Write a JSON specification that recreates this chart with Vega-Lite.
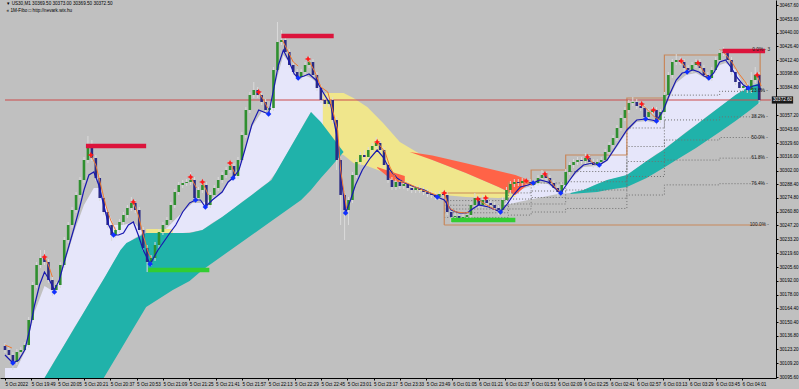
{
"$schema":"https://vega.github.io/schema/vega-lite/v6.json",
"width":776,"height":378,"autosize":{"type":"none"},"padding":{"left":0,"top":0,"right":23,"bottom":11},
"background":"#c0c0c0",
"config":{"view":{"stroke":null},"font":"Liberation Sans"},
"datasets":{
"cd":[
{"i":0,"o":30126.6,"h":30129.6,"l":30119.6,"c":30122.6},{"i":1,"o":30122.6,"h":30125.6,"l":30114.6,"c":30117.6},{"i":2,"o":30117.6,"h":30120.6,"l":30102.6,"c":30110.6},{"i":3,"o":30110.6,"h":30123.6,"l":30107.6,"c":30120.6},{"i":4,"o":30120.6,"h":30125.6,"l":30117.6,"c":30122.6},{"i":5,"o":30122.6,"h":30130.6,"l":30119.6,"c":30127.6},{"i":6,"o":30127.6,"h":30155.6,"l":30124.6,"c":30152.6},{"i":7,"o":30152.6,"h":30190.6,"l":30149.6,"c":30187.6},{"i":8,"o":30187.6,"h":30210.6,"l":30184.6,"c":30207.6},{"i":9,"o":30207.6,"h":30222.6,"l":30204.6,"c":30214.6},
{"i":10,"o":30214.6,"h":30222.6,"l":30207.6,"c":30210.6},{"i":11,"o":30210.6,"h":30213.6,"l":30189.6,"c":30192.6},{"i":12,"o":30192.6,"h":30195.6,"l":30176.6,"c":30182.6},{"i":13,"o":30182.6,"h":30190.6,"l":30179.6,"c":30187.6},{"i":14,"o":30187.6,"h":30210.6,"l":30184.6,"c":30207.6},{"i":15,"o":30207.6,"h":30235.6,"l":30204.6,"c":30232.6},{"i":16,"o":30232.6,"h":30250.6,"l":30229.6,"c":30247.6},{"i":17,"o":30247.6,"h":30265.6,"l":30244.6,"c":30262.6},{"i":18,"o":30262.6,"h":30280.6,"l":30259.6,"c":30277.6},{"i":19,"o":30277.6,"h":30295.6,"l":30274.6,"c":30292.6},
{"i":20,"o":30292.6,"h":30315.6,"l":30289.6,"c":30312.6},{"i":21,"o":30312.6,"h":30336.6,"l":30309.6,"c":30324.6},{"i":22,"o":30324.6,"h":30332.6,"l":30311.6,"c":30314.6},{"i":23,"o":30314.6,"h":30317.6,"l":30291.6,"c":30294.6},{"i":24,"o":30294.6,"h":30297.6,"l":30271.6,"c":30274.6},{"i":25,"o":30274.6,"h":30277.6,"l":30257.6,"c":30260.6},{"i":26,"o":30260.6,"h":30263.6,"l":30244.6,"c":30247.6},{"i":27,"o":30247.6,"h":30250.6,"l":30231.6,"c":30237.6},{"i":28,"o":30237.6,"h":30245.6,"l":30234.6,"c":30242.6},{"i":29,"o":30242.6,"h":30253.6,"l":30239.6,"c":30250.6},
{"i":30,"o":30250.6,"h":30260.6,"l":30247.6,"c":30257.6},{"i":31,"o":30257.6,"h":30267.6,"l":30254.6,"c":30264.6},{"i":32,"o":30264.6,"h":30275.6,"l":30261.6,"c":30269.6},{"i":33,"o":30269.6,"h":30272.6,"l":30259.6,"c":30262.6},{"i":34,"o":30262.6,"h":30265.6,"l":30239.6,"c":30242.6},{"i":35,"o":30242.6,"h":30245.6,"l":30221.6,"c":30224.6},{"i":36,"o":30224.6,"h":30227.6,"l":30200.6,"c":30210.6},{"i":37,"o":30210.6,"h":30217.6,"l":30206.6,"c":30214.6},{"i":38,"o":30214.6,"h":30230.6,"l":30211.6,"c":30227.6},{"i":39,"o":30227.6,"h":30243.6,"l":30224.6,"c":30240.6},
{"i":40,"o":30240.6,"h":30250.6,"l":30237.6,"c":30247.6},{"i":41,"o":30247.6,"h":30255.6,"l":30244.6,"c":30252.6},{"i":42,"o":30252.6,"h":30270.6,"l":30249.6,"c":30267.6},{"i":43,"o":30267.6,"h":30283.6,"l":30264.6,"c":30280.6},{"i":44,"o":30280.6,"h":30290.6,"l":30277.6,"c":30287.6},{"i":45,"o":30287.6,"h":30292.6,"l":30284.6,"c":30289.6},{"i":46,"o":30289.6,"h":30293.6,"l":30286.6,"c":30290.6},{"i":47,"o":30290.6,"h":30300.6,"l":30287.6,"c":30292.6},{"i":48,"o":30292.6,"h":30295.6,"l":30271.6,"c":30274.6},{"i":49,"o":30274.6,"h":30285.6,"l":30271.6,"c":30282.6},
{"i":50,"o":30282.6,"h":30290.6,"l":30279.6,"c":30287.6},{"i":51,"o":30287.6,"h":30290.6,"l":30264.6,"c":30267.6},{"i":52,"o":30267.6,"h":30280.6,"l":30264.6,"c":30277.6},{"i":53,"o":30277.6,"h":30287.6,"l":30274.6,"c":30284.6},{"i":54,"o":30284.6,"h":30295.6,"l":30281.6,"c":30292.6},{"i":55,"o":30292.6,"h":30300.6,"l":30289.6,"c":30297.6},{"i":56,"o":30297.6,"h":30305.6,"l":30294.6,"c":30302.6},{"i":57,"o":30302.6,"h":30312.6,"l":30299.6,"c":30306.6},{"i":58,"o":30306.6,"h":30309.6,"l":30293.6,"c":30296.6},{"i":59,"o":30296.6,"h":30315.6,"l":30293.6,"c":30312.6},
{"i":60,"o":30312.6,"h":30340.6,"l":30309.6,"c":30337.6},{"i":61,"o":30337.6,"h":30365.6,"l":30334.6,"c":30362.6},{"i":62,"o":30362.6,"h":30380.6,"l":30359.6,"c":30377.6},{"i":63,"o":30377.6,"h":30390.6,"l":30374.6,"c":30382.6},{"i":64,"o":30382.6,"h":30385.6,"l":30374.6,"c":30377.6},{"i":65,"o":30377.6,"h":30380.6,"l":30367.6,"c":30370.6},{"i":66,"o":30370.6,"h":30373.6,"l":30359.6,"c":30362.6},{"i":67,"o":30362.6,"h":30367.6,"l":30356.6,"c":30364.6},{"i":68,"o":30364.6,"h":30405.6,"l":30361.6,"c":30402.6},{"i":69,"o":30402.6,"h":30450.6,"l":30399.6,"c":30430.6},
{"i":70,"o":30430.6,"h":30442.6,"l":30427.6,"c":30432.6},{"i":71,"o":30432.6,"h":30435.6,"l":30417.6,"c":30420.6},{"i":72,"o":30420.6,"h":30423.6,"l":30404.6,"c":30407.6},{"i":73,"o":30407.6,"h":30410.6,"l":30397.6,"c":30400.6},{"i":74,"o":30400.6,"h":30403.6,"l":30392.6,"c":30395.6},{"i":75,"o":30395.6,"h":30403.6,"l":30392.6,"c":30400.6},{"i":76,"o":30400.6,"h":30410.6,"l":30397.6,"c":30407.6},{"i":77,"o":30407.6,"h":30416.6,"l":30404.6,"c":30410.6},{"i":78,"o":30410.6,"h":30413.6,"l":30394.6,"c":30397.6},{"i":79,"o":30397.6,"h":30400.6,"l":30381.6,"c":30384.6},
{"i":80,"o":30384.6,"h":30387.6,"l":30369.6,"c":30372.6},{"i":81,"o":30372.6,"h":30375.6,"l":30365.6,"c":30368.6},{"i":82,"o":30368.6,"h":30378.6,"l":30365.6,"c":30372.6},{"i":83,"o":30372.6,"h":30375.6,"l":30349.6,"c":30352.6},{"i":84,"o":30352.6,"h":30355.6,"l":30302.6,"c":30312.6},{"i":85,"o":30312.6,"h":30315.6,"l":30247.6,"c":30277.6},{"i":86,"o":30277.6,"h":30280.6,"l":30232.6,"c":30262.6},{"i":87,"o":30262.6,"h":30275.6,"l":30247.6,"c":30272.6},{"i":88,"o":30272.6,"h":30300.6,"l":30269.6,"c":30297.6},{"i":89,"o":30297.6,"h":30313.6,"l":30294.6,"c":30310.6},
{"i":90,"o":30310.6,"h":30320.6,"l":30307.6,"c":30317.6},{"i":91,"o":30317.6,"h":30322.6,"l":30312.6,"c":30315.6},{"i":92,"o":30315.6,"h":30325.6,"l":30312.6,"c":30322.6},{"i":93,"o":30322.6,"h":30329.6,"l":30319.6,"c":30326.6},{"i":94,"o":30326.6,"h":30335.6,"l":30323.6,"c":30329.6},{"i":95,"o":30329.6,"h":30332.6,"l":30319.6,"c":30322.6},{"i":96,"o":30322.6,"h":30325.6,"l":30304.6,"c":30307.6},{"i":97,"o":30307.6,"h":30310.6,"l":30289.6,"c":30292.6},{"i":98,"o":30292.6,"h":30295.6,"l":30282.6,"c":30285.6},{"i":99,"o":30285.6,"h":30293.6,"l":30282.6,"c":30290.6},
{"i":100,"o":30290.6,"h":30293.6,"l":30283.6,"c":30286.6},{"i":101,"o":30286.6,"h":30291.6,"l":30283.6,"c":30288.6},{"i":102,"o":30288.6,"h":30291.6,"l":30281.6,"c":30284.6},{"i":103,"o":30284.6,"h":30287.6,"l":30279.6,"c":30282.6},{"i":104,"o":30282.6,"h":30287.6,"l":30279.6,"c":30284.6},{"i":105,"o":30284.6,"h":30287.6,"l":30279.6,"c":30282.6},{"i":106,"o":30282.6,"h":30285.6,"l":30277.6,"c":30280.6},{"i":107,"o":30280.6,"h":30283.6,"l":30275.6,"c":30278.6},{"i":108,"o":30278.6,"h":30281.6,"l":30274.6,"c":30277.6},{"i":109,"o":30277.6,"h":30280.6,"l":30272.6,"c":30275.6},
{"i":110,"o":30275.6,"h":30281.6,"l":30272.6,"c":30278.6},{"i":111,"o":30278.6,"h":30282.6,"l":30274.6,"c":30277.6},{"i":112,"o":30277.6,"h":30280.6,"l":30257.6,"c":30260.6},{"i":113,"o":30260.6,"h":30263.6,"l":30249.6,"c":30255.6},{"i":114,"o":30255.6,"h":30259.6,"l":30252.6,"c":30256.6},{"i":115,"o":30256.6,"h":30259.6,"l":30251.6,"c":30254.6},{"i":116,"o":30254.6,"h":30258.6,"l":30251.6,"c":30255.6},{"i":117,"o":30255.6,"h":30260.6,"l":30252.6,"c":30257.6},{"i":118,"o":30257.6,"h":30270.6,"l":30254.6,"c":30267.6},{"i":119,"o":30267.6,"h":30279.6,"l":30264.6,"c":30274.6},
{"i":120,"o":30274.6,"h":30277.6,"l":30264.6,"c":30267.6},{"i":121,"o":30267.6,"h":30277.6,"l":30264.6,"c":30272.6},{"i":122,"o":30272.6,"h":30275.6,"l":30266.6,"c":30269.6},{"i":123,"o":30269.6,"h":30272.6,"l":30264.6,"c":30267.6},{"i":124,"o":30267.6,"h":30270.6,"l":30261.6,"c":30264.6},{"i":125,"o":30264.6,"h":30267.6,"l":30257.6,"c":30262.6},{"i":126,"o":30262.6,"h":30275.6,"l":30259.6,"c":30272.6},{"i":127,"o":30272.6,"h":30285.6,"l":30269.6,"c":30282.6},{"i":128,"o":30282.6,"h":30291.6,"l":30279.6,"c":30288.6},{"i":129,"o":30288.6,"h":30293.6,"l":30285.6,"c":30290.6},
{"i":130,"o":30290.6,"h":30293.6,"l":30286.6,"c":30289.6},{"i":131,"o":30289.6,"h":30294.6,"l":30286.6,"c":30291.6},{"i":132,"o":30291.6,"h":30294.6,"l":30287.6,"c":30290.6},{"i":133,"o":30290.6,"h":30293.6,"l":30284.6,"c":30287.6},{"i":134,"o":30287.6,"h":30292.6,"l":30284.6,"c":30289.6},{"i":135,"o":30289.6,"h":30297.6,"l":30286.6,"c":30294.6},{"i":136,"o":30294.6,"h":30302.6,"l":30291.6,"c":30297.6},{"i":137,"o":30297.6,"h":30300.6,"l":30291.6,"c":30294.6},{"i":138,"o":30294.6,"h":30297.6,"l":30286.6,"c":30289.6},{"i":139,"o":30289.6,"h":30292.6,"l":30281.6,"c":30284.6},
{"i":140,"o":30284.6,"h":30287.6,"l":30275.6,"c":30280.6},{"i":141,"o":30280.6,"h":30290.6,"l":30277.6,"c":30287.6},{"i":142,"o":30287.6,"h":30303.6,"l":30284.6,"c":30300.6},{"i":143,"o":30300.6,"h":30310.6,"l":30297.6,"c":30307.6},{"i":144,"o":30307.6,"h":30313.6,"l":30304.6,"c":30310.6},{"i":145,"o":30310.6,"h":30315.6,"l":30307.6,"c":30312.6},{"i":146,"o":30312.6,"h":30315.6,"l":30308.6,"c":30311.6},{"i":147,"o":30311.6,"h":30319.6,"l":30308.6,"c":30314.6},{"i":148,"o":30314.6,"h":30317.6,"l":30307.6,"c":30310.6},{"i":149,"o":30310.6,"h":30313.6,"l":30304.6,"c":30307.6},
{"i":150,"o":30307.6,"h":30313.6,"l":30304.6,"c":30310.6},{"i":151,"o":30310.6,"h":30315.6,"l":30307.6,"c":30312.6},{"i":152,"o":30312.6,"h":30323.6,"l":30309.6,"c":30320.6},{"i":153,"o":30320.6,"h":30330.6,"l":30317.6,"c":30327.6},{"i":154,"o":30327.6,"h":30337.6,"l":30324.6,"c":30334.6},{"i":155,"o":30334.6,"h":30347.6,"l":30331.6,"c":30344.6},{"i":156,"o":30344.6,"h":30357.6,"l":30341.6,"c":30354.6},{"i":157,"o":30354.6,"h":30365.6,"l":30351.6,"c":30362.6},{"i":158,"o":30362.6,"h":30372.6,"l":30359.6,"c":30369.6},{"i":159,"o":30369.6,"h":30375.6,"l":30366.6,"c":30370.6},
{"i":160,"o":30370.6,"h":30373.6,"l":30363.6,"c":30366.6},{"i":161,"o":30366.6,"h":30369.6,"l":30361.6,"c":30364.6},{"i":162,"o":30364.6,"h":30367.6,"l":30352.6,"c":30355.6},{"i":163,"o":30355.6,"h":30363.6,"l":30352.6,"c":30360.6},{"i":164,"o":30360.6,"h":30365.6,"l":30357.6,"c":30362.6},{"i":165,"o":30362.6,"h":30365.6,"l":30347.6,"c":30352.6},{"i":166,"o":30352.6,"h":30363.6,"l":30349.6,"c":30360.6},{"i":167,"o":30360.6,"h":30380.6,"l":30357.6,"c":30377.6},{"i":168,"o":30377.6,"h":30400.6,"l":30374.6,"c":30397.6},{"i":169,"o":30397.6,"h":30413.6,"l":30394.6,"c":30410.6},
{"i":170,"o":30410.6,"h":30418.6,"l":30407.6,"c":30412.6},{"i":171,"o":30412.6,"h":30415.6,"l":30407.6,"c":30410.6},{"i":172,"o":30410.6,"h":30413.6,"l":30401.6,"c":30404.6},{"i":173,"o":30404.6,"h":30407.6,"l":30399.6,"c":30402.6},{"i":174,"o":30402.6,"h":30410.6,"l":30399.6,"c":30407.6},{"i":175,"o":30407.6,"h":30413.6,"l":30404.6,"c":30410.6},{"i":176,"o":30410.6,"h":30413.6,"l":30401.6,"c":30404.6},{"i":177,"o":30404.6,"h":30407.6,"l":30394.6,"c":30397.6},{"i":178,"o":30397.6,"h":30400.6,"l":30391.6,"c":30394.6},{"i":179,"o":30394.6,"h":30405.6,"l":30391.6,"c":30402.6},
{"i":180,"o":30402.6,"h":30415.6,"l":30399.6,"c":30412.6},{"i":181,"o":30412.6,"h":30422.6,"l":30409.6,"c":30419.6},{"i":182,"o":30419.6,"h":30425.6,"l":30416.6,"c":30420.6},{"i":183,"o":30420.6,"h":30423.6,"l":30409.6,"c":30412.6},{"i":184,"o":30412.6,"h":30415.6,"l":30397.6,"c":30400.6},{"i":185,"o":30400.6,"h":30403.6,"l":30387.6,"c":30390.6},{"i":186,"o":30390.6,"h":30393.6,"l":30381.6,"c":30384.6},{"i":187,"o":30384.6,"h":30389.6,"l":30381.6,"c":30386.6},{"i":188,"o":30386.6,"h":30389.6,"l":30379.6,"c":30382.6},{"i":189,"o":30382.6,"h":30400.6,"l":30379.6,"c":30392.6},
{"i":190,"o":30392.6,"h":30405.6,"l":30389.6,"c":30397.6},{"i":191,"o":30397.6,"h":30400.6,"l":30368.6,"c":30372.6}
],
"ma":[
{"i":0,"p":30117.6},{"i":2,"p":30109.6},{"i":3.5,"p":30112.6},{"i":5,"p":30122.6},{"i":6.25,"p":30142.6},{"i":7.5,"p":30167.6},{"i":8.75,"p":30187.6},{"i":10,"p":30200.6},{"i":11.25,"p":30192.6},{"i":12.5,"p":30182.6},{"i":13.75,"p":30192.6},{"i":15,"p":30210.6},{"i":16.25,"p":30227.6},{"i":17.5,"p":30244.6},{"i":18.75,"p":30262.6},{"i":20,"p":30282.6},{"i":21.25,"p":30297.6},{"i":22.5,"p":30300.6},{"i":23.75,"p":30287.6},{"i":25,"p":30267.6},{"i":26.25,"p":30247.6},{"i":27.5,"p":30237.6},{"i":28.75,"p":30237.6},{"i":30,"p":30239.6},{"i":31.25,"p":30247.6},{"i":32.5,"p":30250.6},{"i":33.75,"p":30237.6},{"i":35,"p":30222.6},{"i":36.75,"p":30208.6},{"i":38.75,"p":30222.6},{"i":40,"p":30229.6},{"i":41.75,"p":30239.6},{"i":43.25,"p":30247.6},{"i":45,"p":30260.6},{"i":46.75,"p":30269.6},{"i":48.25,"p":30272.6},{"i":49.5,"p":30272.6},{"i":50.75,"p":30265.6},{"i":52.5,"p":30272.6},{"i":55,"p":30280.6},{"i":56.5,"p":30290.6},{"i":57.75,"p":30294.6},{"i":59.25,"p":30302.6},{"i":60.75,"p":30322.6},{"i":62.5,"p":30347.6},{"i":64.25,"p":30362.6},{"i":65.5,"p":30360.6},{"i":66.75,"p":30358.6},{"i":68,"p":30382.6},{"i":69.25,"p":30407.6},{"i":70.5,"p":30422.6},{"i":72,"p":30410.6},{"i":73.25,"p":30398.6},{"i":74.25,"p":30394.6},{"i":75.75,"p":30396.6},{"i":77,"p":30398.6},{"i":78.75,"p":30392.6},{"i":80.5,"p":30380.6},{"i":82.5,"p":30367.6},{"i":84.25,"p":30332.6},{"i":85.25,"p":30292.6},{"i":86.25,"p":30259.6},{"i":87.5,"p":30272.6},{"i":88.75,"p":30287.6},{"i":90.5,"p":30302.6},{"i":92.5,"p":30314.6},{"i":94.25,"p":30322.6},{"i":95.75,"p":30315.6},{"i":97.5,"p":30302.6},{"i":99.25,"p":30294.6},{"i":101.25,"p":30289.6},{"i":103.75,"p":30285.6},{"i":106.25,"p":30282.6},{"i":109.5,"p":30275.6},{"i":111.25,"p":30272.6},{"i":113,"p":30262.6},{"i":115,"p":30259.6},{"i":117,"p":30259.6},{"i":118.75,"p":30264.6},{"i":120,"p":30267.6},{"i":122.5,"p":30265.6},{"i":125.5,"p":30260.6},{"i":127,"p":30267.6},{"i":128.75,"p":30277.6},{"i":130.5,"p":30285.6},{"i":132.5,"p":30287.6},{"i":133.75,"p":30289.6},{"i":135.5,"p":30292.6},{"i":137.5,"p":30290.6},{"i":139.25,"p":30284.6},{"i":140.75,"p":30279.6},{"i":142.5,"p":30289.6},{"i":144.5,"p":30300.6},{"i":146.5,"p":30307.6},{"i":148.75,"p":30309.6},{"i":150.5,"p":30307.6},{"i":152.5,"p":30312.6},{"i":155,"p":30327.6},{"i":157.5,"p":30342.6},{"i":160,"p":30352.6},{"i":162.25,"p":30353.6},{"i":163.75,"p":30352.6},{"i":165,"p":30351.6},{"i":166.75,"p":30362.6},{"i":168.25,"p":30377.6},{"i":170,"p":30392.6},{"i":171.5,"p":30399.6},{"i":172.75,"p":30400.6},{"i":174.25,"p":30402.6},{"i":175.75,"p":30400.6},{"i":177,"p":30396.6},{"i":178.25,"p":30394.6},{"i":179.5,"p":30399.6},{"i":181,"p":30410.6},{"i":182.5,"p":30412.6},{"i":184,"p":30404.6},{"i":185.5,"p":30394.6},{"i":187,"p":30387.6},{"i":188.25,"p":30384.6},{"i":189.5,"p":30386.6},{"i":190.75,"p":30387.6},{"i":191.5,"p":30382.6}
],
"org":[
{"s":0,"i":0,"p":30127.6},{"s":0,"i":1.75,"p":30124.6},
{"s":1,"i":10,"p":30215.6},{"s":1,"i":11,"p":30207.6},{"s":1,"i":12,"p":30195.6},
{"s":2,"i":21.75,"p":30317.6},{"s":2,"i":23,"p":30307.6},{"s":2,"i":24.25,"p":30287.6},{"s":2,"i":25.5,"p":30267.6},{"s":2,"i":26.75,"p":30252.6},{"s":2,"i":28,"p":30242.6},
{"s":3,"i":32.5,"p":30270.6},{"s":3,"i":33.75,"p":30257.6},{"s":3,"i":35,"p":30237.6},{"s":3,"i":36.25,"p":30220.6},{"s":3,"i":37,"p":30214.6},
{"s":4,"i":47,"p":30295.6},{"s":4,"i":48.5,"p":30284.6},
{"s":5,"i":50,"p":30290.6},{"s":5,"i":51.5,"p":30277.6},
{"s":6,"i":57,"p":30309.6},{"s":6,"i":58.25,"p":30298.6},
{"s":7,"i":64.25,"p":30380.6},{"s":7,"i":65.5,"p":30372.6},{"s":7,"i":66.5,"p":30364.6},
{"s":8,"i":70.25,"p":30432.6},{"s":8,"i":71.75,"p":30420.6},{"s":8,"i":73,"p":30410.6},{"s":8,"i":74.25,"p":30406.6},
{"s":9,"i":76.75,"p":30413.6},{"s":9,"i":78.5,"p":30400.6},{"s":9,"i":80,"p":30385.6},{"s":9,"i":81.75,"p":30380.6},{"s":9,"i":82.5,"p":30369.6},{"s":9,"i":84.25,"p":30342.6},{"s":9,"i":85,"p":30302.6},{"s":9,"i":85.75,"p":30282.6},{"s":9,"i":86.5,"p":30264.6},
{"s":10,"i":94.25,"p":30330.6},{"s":10,"i":96.25,"p":30320.6},{"s":10,"i":97.5,"p":30305.6},{"s":10,"i":99.25,"p":30292.6},{"s":10,"i":101.75,"p":30289.6},{"s":10,"i":105.75,"p":30282.6},{"s":10,"i":109.25,"p":30277.6},
{"s":11,"i":111.25,"p":30279.6},{"s":11,"i":112.5,"p":30264.6},{"s":11,"i":114.25,"p":30260.6},{"s":11,"i":116.75,"p":30259.6},{"s":11,"i":117.5,"p":30260.6},
{"s":12,"i":120,"p":30272.6},{"s":12,"i":122,"p":30267.6},{"s":12,"i":124.25,"p":30262.6},
{"s":13,"i":132,"p":30291.6},{"s":13,"i":133.5,"p":30287.6},
{"s":14,"i":136.75,"p":30298.6},{"s":14,"i":138,"p":30292.6},{"s":14,"i":139.25,"p":30285.6},{"s":14,"i":140.5,"p":30280.6},
{"s":15,"i":147.5,"p":30315.6},{"s":15,"i":149.25,"p":30308.6},
{"s":16,"i":161.25,"p":30368.6},{"s":16,"i":163,"p":30361.6},{"s":16,"i":164.5,"p":30355.6},{"s":16,"i":165.75,"p":30352.6},
{"s":17,"i":171.25,"p":30411.6},{"s":17,"i":172.75,"p":30402.6},
{"s":18,"i":175.5,"p":30409.6},{"s":18,"i":177,"p":30400.6},{"s":18,"i":178.25,"p":30394.6},
{"s":19,"i":182,"p":30420.6},{"s":19,"i":184.25,"p":30409.6},{"s":19,"i":185.75,"p":30399.6},{"s":19,"i":187.5,"p":30390.6},{"s":19,"i":188.25,"p":30385.6},
{"s":20,"i":190.5,"p":30397.6},{"s":20,"i":191.5,"p":30386.6}
],
"lavL":[
{"i":0,"p":30104.6,"p2":30094.6},{"i":3,"p":30104.6,"p2":30094.6},{"i":5,"p":30120.6,"p2":30094.6},{"i":7.5,"p":30160.6,"p2":30094.6},{"i":10,"p":30186.6,"p2":30094.6},{"i":12.5,"p":30180.6,"p2":30111.6},{"i":15,"p":30207.6,"p2":30127.6},{"i":17.5,"p":30240.6,"p2":30144.6},{"i":20,"p":30267.6,"p2":30160.6},{"i":22.5,"p":30284.6,"p2":30177.6},{"i":23.75,"p":30284.6,"p2":30185.6},{"i":25.5,"p":30267.6,"p2":30196.6},{"i":27.5,"p":30247.6,"p2":30210.6},{"i":30,"p":30247.6,"p2":30225.6},{"i":32.5,"p":30250.6,"p2":30233.6},{"i":35,"p":30240.6,"p2":30239.6},{"i":36.75,"p":30237.6,"p2":30239.6},{"i":40,"p":30240.6,"p2":30239.6},{"i":42.5,"p":30250.6,"p2":30239.6},{"i":45,"p":30260.6,"p2":30239.6},{"i":47.5,"p":30269.6,"p2":30240.6},{"i":50,"p":30269.6,"p2":30242.6},{"i":52.5,"p":30274.6,"p2":30249.6},{"i":55,"p":30280.6,"p2":30255.6},{"i":57.5,"p":30294.6,"p2":30262.6},{"i":60,"p":30312.6,"p2":30270.6},{"i":62.5,"p":30345.6,"p2":30277.6},{"i":65,"p":30360.6,"p2":30285.6},{"i":66.75,"p":30358.6,"p2":30290.6},{"i":68.75,"p":30392.6,"p2":30300.6},{"i":70.5,"p":30417.6,"p2":30312.6},{"i":72.5,"p":30407.6,"p2":30326.6},{"i":74.25,"p":30394.6,"p2":30338.6},{"i":76.25,"p":30396.6,"p2":30352.6},{"i":77.5,"p":30394.6,"p2":30360.6},{"i":78.75,"p":30390.6,"p2":30354.6},{"i":80.5,"p":30380.6,"p2":30345.6},{"i":82,"p":30372.6,"p2":30337.6}
],
"lavR":[
{"i":126.25,"p":30267.6,"p2":30267.6},{"i":128,"p":30274.6,"p2":30268.6},{"i":130,"p":30282.6,"p2":30270.6},{"i":132.5,"p":30285.6,"p2":30272.6},{"i":135,"p":30289.6,"p2":30274.6},{"i":137.5,"p":30288.6,"p2":30276.6},{"i":140,"p":30280.6,"p2":30278.6},{"i":143.25,"p":30293.6,"p2":30279.6},{"i":146.5,"p":30305.6,"p2":30282.6},{"i":150,"p":30306.6,"p2":30288.6},{"i":152.5,"p":30311.6,"p2":30292.6},{"i":155,"p":30325.6,"p2":30294.6},{"i":157.5,"p":30340.6,"p2":30297.6},{"i":160,"p":30350.6,"p2":30304.6},{"i":162.5,"p":30351.6,"p2":30311.6},{"i":165,"p":30349.6,"p2":30318.6},{"i":166.75,"p":30359.6,"p2":30322.6},{"i":168.25,"p":30374.6,"p2":30327.6},{"i":170,"p":30389.6,"p2":30332.6},{"i":172.5,"p":30397.6,"p2":30340.6},{"i":175,"p":30399.6,"p2":30347.6},{"i":178.25,"p":30392.6,"p2":30357.6},{"i":181,"p":30407.6,"p2":30365.6},{"i":182.5,"p":30409.6,"p2":30369.6},{"i":185,"p":30402.6,"p2":30377.6},{"i":187,"p":30387.6,"p2":30382.6},{"i":188.75,"p":30384.6,"p2":30386.6},{"i":191.25,"p":30385.6,"p2":30389.6}
],
"tealL":[
{"i":10,"p":30094.6,"p2":29995.6},{"i":15,"p":30127.6,"p2":30028.6},{"i":20,"p":30160.6,"p2":30061.6},{"i":25,"p":30193.6,"p2":30094.6},{"i":29.25,"p":30222.6,"p2":30122.6},{"i":30.75,"p":30229.6,"p2":30132.6},{"i":35.75,"p":30239.6,"p2":30165.6},{"i":42.5,"p":30239.6,"p2":30182.6},{"i":46.75,"p":30239.6,"p2":30191.6},{"i":50,"p":30242.6,"p2":30202.6},{"i":55,"p":30255.6,"p2":30216.6},{"i":62.5,"p":30277.6,"p2":30237.6},{"i":67.5,"p":30292.6,"p2":30251.6},{"i":72.5,"p":30326.6,"p2":30265.6},{"i":75,"p":30343.6,"p2":30272.6},{"i":77.5,"p":30360.6,"p2":30282.6},{"i":80,"p":30350.6,"p2":30294.6},{"i":82.5,"p":30337.6,"p2":30305.6},{"i":85.75,"p":30320.6,"p2":30320.6}
],
"tealR":[
{"i":143.25,"p":30279.6,"p2":30278.6},{"i":146.5,"p":30282.6,"p2":30279.6},{"i":150,"p":30288.6,"p2":30280.6},{"i":152.5,"p":30292.6,"p2":30282.6},{"i":157.5,"p":30297.6,"p2":30285.6},{"i":162.5,"p":30311.6,"p2":30294.6},{"i":166.75,"p":30322.6,"p2":30304.6},{"i":170,"p":30332.6,"p2":30312.6},{"i":175,"p":30347.6,"p2":30324.6},{"i":181,"p":30365.6,"p2":30340.6},{"i":185,"p":30377.6,"p2":30351.6},{"i":188.75,"p":30386.6,"p2":30362.6},{"i":191.25,"p":30389.6,"p2":30370.6}
],
"khaki":[
{"i":80.5,"p":30379.6,"p2":30322.6},{"i":85.75,"p":30379.6,"p2":30317.6},{"i":88.25,"p":30374.6,"p2":30309.6},{"i":91.75,"p":30365.6,"p2":30306.6},{"i":95.75,"p":30349.6,"p2":30300.6},{"i":100,"p":30330.6,"p2":30290.6},{"i":104.25,"p":30320.6,"p2":30282.6},{"i":108.25,"p":30312.6,"p2":30278.6},{"i":116.75,"p":30299.6,"p2":30275.6},{"i":125,"p":30285.6,"p2":30274.6},{"i":129.25,"p":30276.6,"p2":30275.6}
],
"khaki2":[{"i":35.75,"p":30243.6,"p2":30235.6},{"i":42.5,"p":30243.6,"p2":30235.6}],
"tomato":[
{"i":102.5,"p":30320.6,"p2":30320.6},{"i":108.25,"p":30317.2,"p2":30312.6},{"i":116.75,"p":30309.3,"p2":30299.6},{"i":125,"p":30301.6,"p2":30285.6},{"i":129.25,"p":30297.6,"p2":30277.6},{"i":132.5,"p":30292.6,"p2":30288.6}
],
"tomato2":[{"i":94.25,"p":30305.6,"p2":30304.6},{"i":98,"p":30300.6,"p2":30292.6},{"i":101.25,"p":30296.6,"p2":30288.6}],
"fib":[
{"lv":"a","i":111.25,"p":30272.05},{"lv":"a","i":127.5,"p":30279.69},{"lv":"a","i":133.25,"p":30289.62},{"lv":"a","i":142,"p":30301.08},{"lv":"a","i":157.5,"p":30344.63},{"lv":"a","i":167,"p":30377.48},{"lv":"a","i":181,"p":30381.3},{"lv":"a","i":192.5,"p":30381.3},
{"lv":"b","i":111.25,"p":30267.38},{"lv":"b","i":127.5,"p":30273.56},{"lv":"b","i":133.25,"p":30281.59},{"lv":"b","i":142,"p":30290.86},{"lv":"b","i":157.5,"p":30326.09},{"lv":"b","i":167,"p":30352.66},{"lv":"b","i":181,"p":30355.75},{"lv":"b","i":192.5,"p":30355.75},
{"lv":"c","i":111.25,"p":30263.6},{"lv":"c","i":127.5,"p":30268.6},{"lv":"c","i":133.25,"p":30275.1},{"lv":"c","i":142,"p":30282.6},{"lv":"c","i":157.5,"p":30311.1},{"lv":"c","i":167,"p":30332.6},{"lv":"c","i":181,"p":30335.1},{"lv":"c","i":192.5,"p":30335.1},
{"lv":"d","i":111.25,"p":30259.82},{"lv":"d","i":127.5,"p":30263.64},{"lv":"d","i":133.25,"p":30268.61},{"lv":"d","i":142,"p":30274.34},{"lv":"d","i":157.5,"p":30296.11},{"lv":"d","i":167,"p":30312.54},{"lv":"d","i":181,"p":30314.45},{"lv":"d","i":192.5,"p":30314.45},
{"lv":"e","i":111.25,"p":30255.15},{"lv":"e","i":127.5,"p":30257.51},{"lv":"e","i":133.25,"p":30260.58},{"lv":"e","i":142,"p":30264.12},{"lv":"e","i":157.5,"p":30277.57},{"lv":"e","i":167,"p":30287.72},{"lv":"e","i":181,"p":30288.9},{"lv":"e","i":192.5,"p":30288.9}
],
"don":[
{"n":0,"i":111.25,"p":30247.6},{"n":1,"i":111.25,"p":30279.6},{"n":2,"i":127.5,"p":30289.6},{"n":3,"i":133.25,"p":30302.6},{"n":4,"i":142,"p":30317.6},{"n":5,"i":157.5,"p":30374.6},{"n":6,"i":167,"p":30417.6},{"n":7,"i":181,"p":30422.6},{"n":8,"i":191.25,"p":30422.6},{"n":9,"i":191.25,"p":30372.6}
],
"bars":[
{"i":20.5,"i2":35.75,"p":30326.6,"k":"r"},{"i":70,"i2":83.25,"p":30436.6,"k":"r"},{"i":181.75,"i2":192.5,"p":30421.6,"k":"r"},{"i":36.25,"i2":51.75,"p":30202.6,"k":"g"},{"i":113,"i2":129.25,"p":30252.6,"k":"g"}
],
"hi":[
{"i":10,"p":30215.6},{"i":21.75,"p":30317.6},{"i":32.5,"p":30270.6},{"i":47,"p":30295.6},{"i":50,"p":30290.6},{"i":57,"p":30309.6},{"i":64.25,"p":30380.6},{"i":76.75,"p":30413.6},{"i":94.25,"p":30330.6},{"i":111.25,"p":30279.6},{"i":119.75,"p":30273.6},{"i":121.75,"p":30274.6},{"i":132,"p":30291.6},{"i":136.75,"p":30298.6},{"i":147.5,"p":30315.6},{"i":161.25,"p":30368.6},{"i":164.25,"p":30362.6},{"i":171.25,"p":30411.6},{"i":175.5,"p":30409.6},{"i":190.5,"p":30397.6}
],
"lo":[
{"i":2,"p":30109.6},{"i":12.5,"p":30180.6},{"i":27.5,"p":30237.6},{"i":36.75,"p":30208.6},{"i":48.25,"p":30272.6},{"i":50.75,"p":30265.6},{"i":57.75,"p":30294.6},{"i":66.75,"p":30358.6},{"i":74.25,"p":30394.6},{"i":86.25,"p":30259.6},{"i":109.5,"p":30275.6},{"i":125.5,"p":30260.6},{"i":133.75,"p":30289.6},{"i":140.75,"p":30279.6},{"i":150.5,"p":30307.6},{"i":162.25,"p":30353.6},{"i":165,"p":30351.6},{"i":172.75,"p":30400.6},{"i":178.25,"p":30394.6},{"i":188.25,"p":30384.6}
],
"fl":[
{"t":"0.0% - 3","i":189.25,"p":30422.6},{"t":"23.6% -","i":189,"p":30381.3},{"t":"38.2% -","i":189,"p":30355.75},{"t":"50.0% -","i":189,"p":30335.1},{"t":"61.8% -","i":189,"p":30314.45},{"t":"76.4% -","i":189,"p":30288.9},{"t":"100.0% -","i":188.6,"p":30247.6}
],
"hdr":[
{"t":"▾ US30,M1  30369.50 30373.00 30369.50 30372.50","i":0.6,"p":30468.6},
{"t":"« 1M-Fibo □ http://nevark.wix.hu","i":0.4,"p":30461.6}
]
},
"encoding":{
"x":{"field":"i","type":"quantitative","scale":{"domain":[0,194],"nice":false,"zero":false},"axis":{"orient":"bottom","title":null,"grid":false,"values":[0,6.6667,13.3333,20,26.6667,33.3333,40,46.6667,53.3333,60,66.6667,73.3333,80,86.6667,93.3333,100,106.6667,113.3333,120,126.6667,133.3333,140,146.6667,153.3333,160,166.6667,173.3333,180,186.6667],"labelExpr":"['5 Oct 2022','5 Oct 19:49','5 Oct 20:05','5 Oct 20:21','5 Oct 20:37','5 Oct 20:53','5 Oct 21:09','5 Oct 21:25','5 Oct 21:41','5 Oct 21:57','5 Oct 22:13','5 Oct 22:29','5 Oct 22:45','5 Oct 23:01','5 Oct 23:17','5 Oct 23:33','5 Oct 23:49','6 Oct 01:05','6 Oct 01:21','6 Oct 01:37','6 Oct 01:53','6 Oct 02:09','6 Oct 02:25','6 Oct 02:41','6 Oct 02:57','6 Oct 03:13','6 Oct 03:29','6 Oct 03:45','6 Oct 04:01'][round(datum.value*0.15)]","labelAlign":"left","labelFontSize":4.6,"labelColor":"#000","labelPadding":1,"tickSize":2,"tickColor":"#000","domainColor":"#000","labelOverlap":false,"labelBound":false,"labelFlush":false}},
"y":{"field":"p","type":"quantitative","scale":{"domain":[30094.6,30472.6],"nice":false,"zero":false},"axis":{"orient":"right","title":null,"grid":false,"values":[30467.6,30453.6,30440.0,30426.4,30412.4,30398.8,30384.8,30357.2,30343.6,30329.6,30316.0,30302.0,30288.4,30274.8,30260.8,30247.2,30233.2,30219.6,30205.6,30192.0,30178.0,30164.4,30150.4,30136.8,30123.2,30109.2,30095.6],"format":".2f","labelFontSize":4.6,"labelColor":"#000","labelPadding":1,"tickSize":2,"tickColor":"#000","domainColor":"#000","labelOverlap":false,"labelBound":false,"labelFlush":false}}
},
"layer":[
{"data":{"name":"lavL"},"mark":{"type":"area","color":"#e6e6fa","clip":true},"encoding":{"y2":{"field":"p2"}}},
{"data":{"name":"lavR"},"mark":{"type":"area","color":"#e6e6fa","clip":true},"encoding":{"y2":{"field":"p2"}}},
{"data":{"name":"khaki"},"mark":{"type":"area","color":"#f0e68c","clip":true},"encoding":{"y2":{"field":"p2"}}},
{"data":{"name":"khaki2"},"mark":{"type":"area","color":"#f0e68c","clip":true},"encoding":{"y2":{"field":"p2"}}},
{"data":{"name":"tomato"},"mark":{"type":"area","color":"#ff6347","clip":true},"encoding":{"y2":{"field":"p2"}}},
{"data":{"name":"tomato2"},"mark":{"type":"area","color":"#ff6347","clip":true},"encoding":{"y2":{"field":"p2"}}},
{"data":{"name":"tealL"},"mark":{"type":"area","color":"#20b2aa","clip":true},"encoding":{"y2":{"field":"p2"}}},
{"data":{"name":"tealR"},"mark":{"type":"area","color":"#20b2aa","clip":true},"encoding":{"y2":{"field":"p2"}}},
{"data":{"name":"fib"},"mark":{"type":"line","interpolate":"step-after","color":"#707070","strokeDash":[1,2],"strokeWidth":1,"clip":true},"encoding":{"detail":{"field":"lv"}}},
{"data":{"name":"don"},"mark":{"type":"line","interpolate":"step-after","color":"#c8875a","strokeWidth":1.2,"clip":true},"encoding":{"order":{"field":"n"}}},
{"data":{"values":[{"i":111.25,"i2":192.5,"p":30247.6}]},"mark":{"type":"rule","color":"#c8875a","strokeWidth":1.2,"clip":true},"encoding":{"x2":{"field":"i2"}}},
{"data":{"values":[{"i":0,"i2":194,"p":30372.6}]},"mark":{"type":"rule","color":"#cc4a4a","strokeWidth":1,"clip":true},"encoding":{"x2":{"field":"i2"}}},
{"data":{"name":"cd"},"mark":{"type":"rule","color":"#dadada","strokeWidth":1,"clip":true},"encoding":{"y":{"field":"l","type":"quantitative","scale":{"domain":[30094.6,30472.6],"nice":false,"zero":false},"axis":{"orient":"right","title":null,"grid":false,"values":[30467.6,30453.6,30440.0,30426.4,30412.4,30398.8,30384.8,30357.2,30343.6,30329.6,30316.0,30302.0,30288.4,30274.8,30260.8,30247.2,30233.2,30219.6,30205.6,30192.0,30178.0,30164.4,30150.4,30136.8,30123.2,30109.2,30095.6],"format":".2f","labelFontSize":4.6,"labelColor":"#000","labelPadding":1,"tickSize":2,"tickColor":"#000","domainColor":"#000","labelOverlap":false,"labelBound":false,"labelFlush":false}},"y2":{"field":"h"}}},
{"data":{"name":"cd"},"mark":{"type":"bar","size":2.6,"clip":true},"encoding":{"y":{"field":"o","type":"quantitative","scale":{"domain":[30094.6,30472.6],"nice":false,"zero":false},"axis":{"orient":"right","title":null,"grid":false,"values":[30467.6,30453.6,30440.0,30426.4,30412.4,30398.8,30384.8,30357.2,30343.6,30329.6,30316.0,30302.0,30288.4,30274.8,30260.8,30247.2,30233.2,30219.6,30205.6,30192.0,30178.0,30164.4,30150.4,30136.8,30123.2,30109.2,30095.6],"format":".2f","labelFontSize":4.6,"labelColor":"#000","labelPadding":1,"tickSize":2,"tickColor":"#000","domainColor":"#000","labelOverlap":false,"labelBound":false,"labelFlush":false}},"y2":{"field":"c"},"color":{"condition":{"test":"datum.c >= datum.o","value":"#2f8f2f"},"value":"#2b2b85"}}},
{"data":{"name":"ma"},"mark":{"type":"line","color":"#1818b0","strokeWidth":1.2,"clip":true}},
{"data":{"name":"org"},"mark":{"type":"line","color":"#f07a30","strokeWidth":1,"clip":true},"encoding":{"detail":{"field":"s"}}},
{"data":{"name":"bars"},"mark":{"type":"rule","strokeWidth":4.5,"clip":true},"encoding":{"x2":{"field":"i2"},"color":{"field":"k","type":"nominal","scale":{"domain":["r","g"],"range":["#dc143c","#32cd32"]},"legend":null}}},
{"data":{"name":"hi"},"mark":{"type":"point","shape":"M0,-1L0.3,-0.3L1,0L0.3,0.3L0,1L-0.3,0.3L-1,0L-0.3,-0.3Z","filled":true,"color":"#ff1a1a","size":45,"opacity":1,"clip":true}},
{"data":{"name":"lo"},"mark":{"type":"point","shape":"diamond","filled":true,"color":"#1030ff","size":30,"opacity":1,"clip":true}},
{"data":{"name":"fl"},"mark":{"type":"text","align":"left","baseline":"middle","fontSize":4.8,"color":"#1a1a1a","clip":true},"encoding":{"text":{"field":"t"}}},
{"data":{"name":"hdr"},"mark":{"type":"text","align":"left","baseline":"middle","fontSize":4.6,"color":"#000"},"encoding":{"text":{"field":"t"}}},
{"data":{"values":[{"i":194.2,"i2":199.6,"p":30376.2,"p2":30369.0}]},"mark":{"type":"rect","color":"#1a1a1a","clip":false},"encoding":{"x2":{"field":"i2"},"y2":{"field":"p2"}}},
{"data":{"values":[{"i":194.5,"p":30372.6,"t":"30372.60"}]},"mark":{"type":"text","align":"left","baseline":"middle","fontSize":4.6,"color":"#ffffff","clip":false},"encoding":{"text":{"field":"t"}}}
]
}
